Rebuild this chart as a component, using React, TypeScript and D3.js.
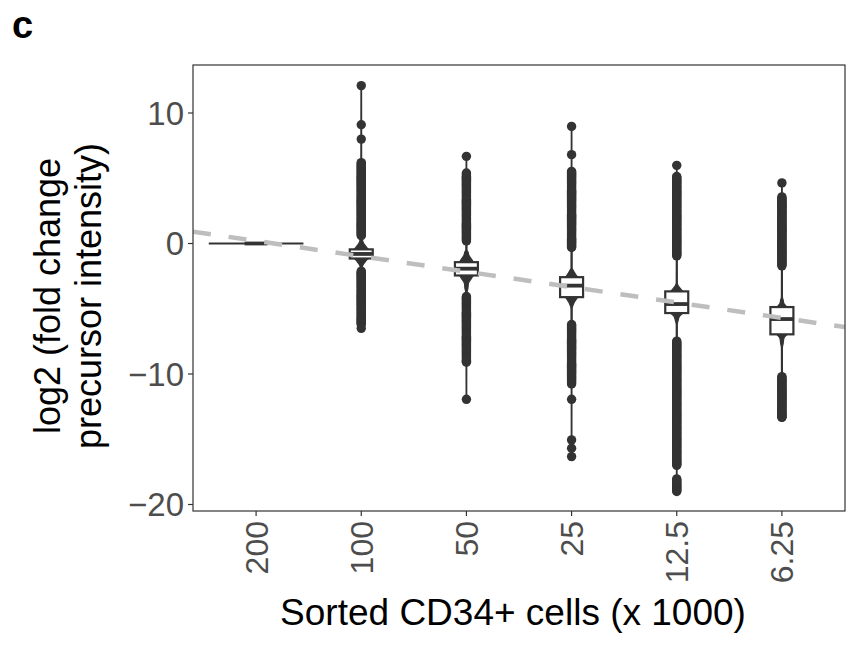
import React from "react";
import * as d3 from "d3";

const categories = ["200", "100", "50", "25", "12.5", "6.25"];
const medians = [0, -0.8, -1.93, -3.23, -4.64, -5.79];
const q3s = [0, -0.45, -1.43, -2.58, -3.67, -4.87];
const q1s = [0, -1.15, -2.45, -4.11, -5.33, -6.96];
const whiskerHigh = [0, 0.6, 0.1, -0.3, -1.0, -1.8];
const whiskerLow = [0, -1.9, -3.9, -6.2, -7.8, -10.0];
const outlierSingles: number[][] = [
  [],
  [12.1, 9.1, 8.0, -6.5],
  [6.68, -11.94],
  [8.97, 6.81, -11.94, -15.05, -15.69, -16.33],
  [5.99],
  [4.64, -13.3],
];
const outlierRanges: [number, number][][] = [
  [],
  [[0.6, 6.2], [-2.1, -6.2]],
  [[0.2, 5.4], [-4.03, -9.1]],
  [[-0.31, 5.53], [-6.2, -10.77]],
  [[-0.95, 5.15], [-7.47, -17.0], [-18.0, -19.0]],
  [[-1.71, 3.62], [-10.15, -13.32]],
];
// violin density profiles: [value, relative density]
const violins: [number, number][][] = [
  [],
  [[12.1, 0.03], [0.5, 0.05], [0.2, 0.15], [0, 0.25], [-0.26, 0.5], [-0.8, 1], [-1.3, 0.5], [-1.6, 0.2], [-1.9, 0.06], [-6.5, 0.03]],
  [[6.68, 0.03], [-0.5, 0.05], [-0.64, 0.15], [-0.9, 0.25], [-1.2, 0.5], [-1.93, 1], [-2.68, 0.5], [-3.06, 0.2], [-3.44, 0.15], [-3.8, 0.05], [-11.94, 0.03]],
  [[8.97, 0.03], [-1.9, 0.05], [-2.04, 0.15], [-2.3, 0.35], [-2.58, 0.6], [-3.23, 1], [-4.11, 0.6], [-4.47, 0.3], [-4.72, 0.15], [-5.0, 0.05], [-16.33, 0.03]],
  [[5.99, 0.03], [-3.0, 0.05], [-3.24, 0.15], [-3.44, 0.35], [-3.67, 0.6], [-4.64, 1], [-5.33, 0.6], [-5.61, 0.25], [-5.87, 0.15], [-6.2, 0.05], [-19.0, 0.03]],
  [[4.64, 0.03], [-4.1, 0.05], [-4.34, 0.13], [-4.59, 0.2], [-4.87, 0.5], [-5.79, 1], [-6.96, 0.5], [-7.27, 0.2], [-7.65, 0.13], [-8.0, 0.05], [-13.3, 0.03]],
];
const trendIntercept = 0.2;
const trendSlope = -1.18;
const yTicks = [10, 0, -10, -20];

const W = 846;
const H = 645;
const panel = { left: 193, right: 845, top: 65, bottom: 511 };
const dark = "#333333";
const tickGray = "#4d4d4d";
const font = "'Liberation Sans', Arial, sans-serif";

export default function App() {
  const x = d3.scaleLinear().domain([-0.6, categories.length - 0.4]).range([panel.left, panel.right]);
  const y = d3.scaleLinear().domain([-20, 10]).range([504.5, 113]);
  const step = x(1) - x(0);
  const boxHalf = 11.5;
  const violinScale = d3.scaleLinear().domain([0, 1]).range([0, 10]);

  const area = (cx: number) =>
    d3
      .area<[number, number]>()
      .y((d) => y(d[0]))
      .x0((d) => cx - violinScale(d[1]))
      .x1((d) => cx + violinScale(d[1]))
      .curve(d3.curveMonotoneY);

  const dotStep = 0.08;

  return (
    <svg width={W} height={H} style={{ position: "absolute", left: 0, top: 0, background: "#fff" }}>
      <defs>
        <clipPath id="pc">
          <rect x={panel.left} y={panel.top} width={panel.right - panel.left} height={panel.bottom - panel.top} />
        </clipPath>
      </defs>
      <rect width={W} height={H} fill="#fff" />
      <text x={12} y={38} fontFamily={font} fontWeight={700} fontSize={38} fill="#000">
        c
      </text>

      <g clipPath="url(#pc)">
        {categories.map((c, i) => {
          const cx = x(i);
          const flat = q3s[i] === q1s[i];
          const dots: number[] = [];
          outlierRanges[i].forEach(([a, b]) => {
            const lo = Math.min(a, b);
            const hi = Math.max(a, b);
            for (let v = lo; v <= hi + 1e-9; v += dotStep) dots.push(v);
          });
          outlierSingles[i].forEach((v) => dots.push(v));
          return (
            <g key={c}>
              {flat ? (
                <line x1={cx - step * 0.45} x2={cx + step * 0.45} y1={y(medians[i])} y2={y(medians[i])} stroke={dark} strokeWidth={2} />
              ) : (
                <path d={area(cx)(violins[i]) || ""} fill={dark} stroke={dark} strokeWidth={1.2} />
              )}
              {!flat && (
                <>
                  <line x1={cx} x2={cx} y1={y(q3s[i])} y2={y(whiskerHigh[i])} stroke={dark} strokeWidth={1.5} />
                  <line x1={cx} x2={cx} y1={y(q1s[i])} y2={y(whiskerLow[i])} stroke={dark} strokeWidth={1.5} />
                </>
              )}
              {dots.map((v, k) => (
                <circle key={k} cx={cx} cy={y(v)} r={4.7} fill={dark} />
              ))}
              <rect
                x={cx - boxHalf}
                y={y(q3s[i])}
                width={boxHalf * 2}
                height={Math.max(0, y(q1s[i]) - y(q3s[i]))}
                fill="#fff"
                stroke={dark}
                strokeWidth={2.2}
              />
              <line x1={cx - boxHalf} x2={cx + boxHalf} y1={y(medians[i])} y2={y(medians[i])} stroke={dark} strokeWidth={3.8} />
            </g>
          );
        })}
        <line
          x1={panel.left}
          x2={panel.right}
          y1={y(trendIntercept + trendSlope * x.invert(panel.left))}
          y2={y(trendIntercept + trendSlope * x.invert(panel.right))}
          stroke="#bebebe"
          strokeWidth={4.5}
          strokeDasharray="18,18"
        />
      </g>

      <rect
        x={panel.left}
        y={panel.top}
        width={panel.right - panel.left}
        height={panel.bottom - panel.top}
        fill="none"
        stroke={dark}
        strokeWidth={1.2}
      />

      {yTicks.map((t) => (
        <g key={t}>
          <line x1={panel.left - 5} x2={panel.left} y1={y(t)} y2={y(t)} stroke={dark} strokeWidth={1.2} />
          <text x={panel.left - 9} y={y(t)} dy="0.36em" textAnchor="end" fontFamily={font} fontSize={33} fill={tickGray}>
            {t < 0 ? "\u2212" + Math.abs(t) : String(t)}
          </text>
        </g>
      ))}

      {categories.map((c, i) => (
        <g key={c}>
          <line x1={x(i)} x2={x(i)} y1={panel.bottom} y2={panel.bottom + 5} stroke={dark} strokeWidth={1.2} />
          <text
            transform={`translate(${x(i)},${panel.bottom + 10}) rotate(-90)`}
            dy="0.36em"
            textAnchor="end"
            fontFamily={font}
            fontSize={32}
            fill={tickGray}
          >
            {c}
          </text>
        </g>
      ))}

      <text x={513} y={625} textAnchor="middle" fontFamily={font} fontSize={37} fill="#000">
        Sorted CD34+ cells (x 1000)
      </text>
      <g transform="translate(0,296) rotate(-90)" fontFamily={font} fontSize={36} fill="#000" textAnchor="middle">
        <text x={0} y={60}>log2 (fold change</text>
        <text x={0} y={101}>precursor intensity)</text>
      </g>
    </svg>
  );
}
